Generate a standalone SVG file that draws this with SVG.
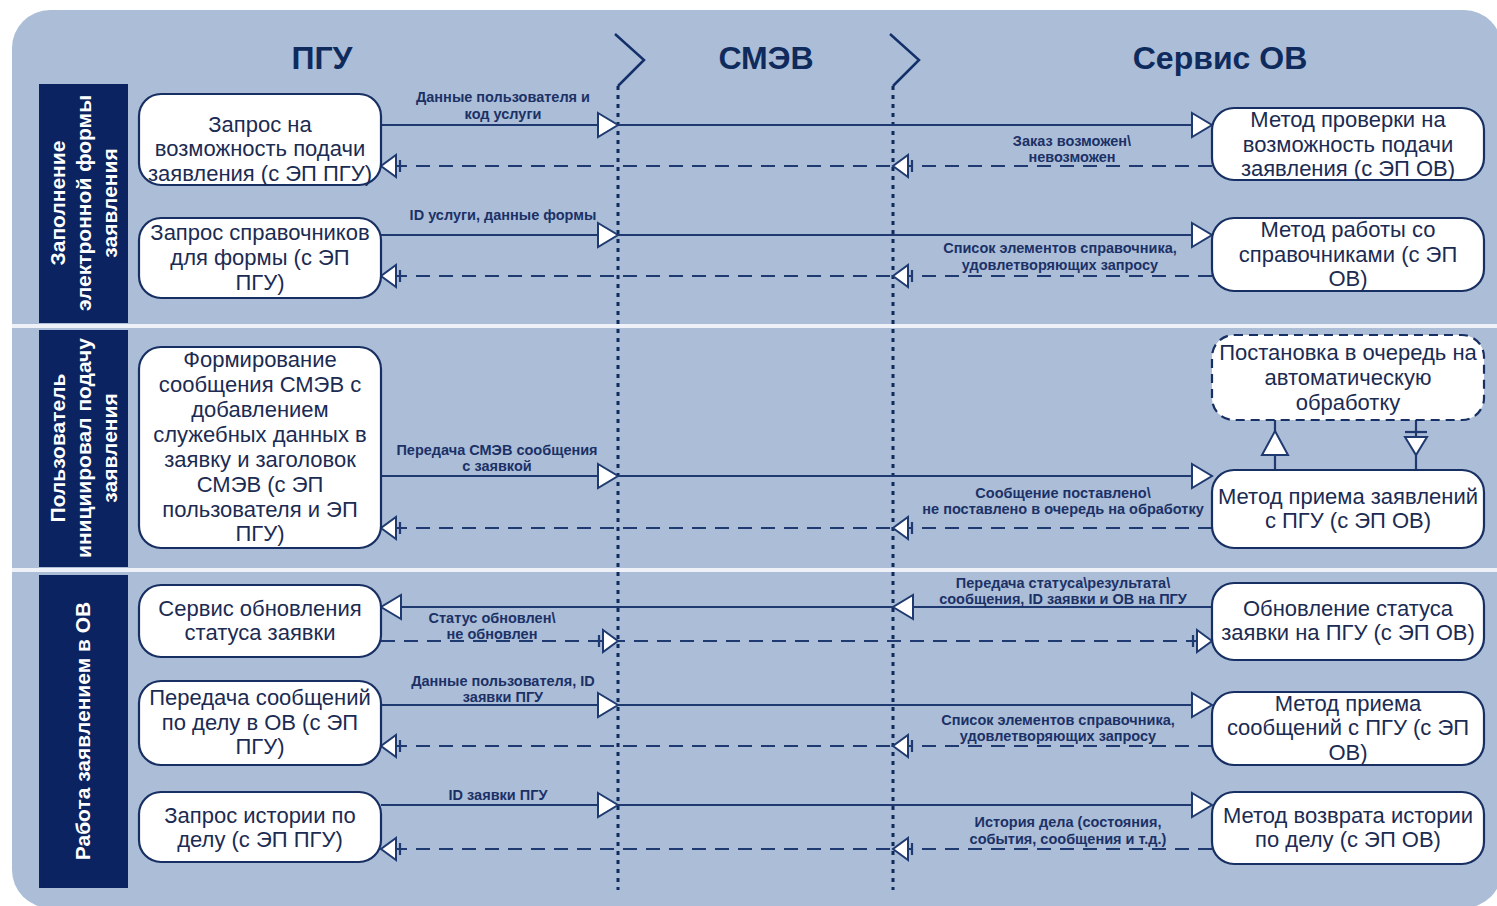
<svg xmlns="http://www.w3.org/2000/svg" width="1497" height="906" viewBox="0 0 1497 906">
<style>
.node{fill:#ffffff;stroke:#172f62;stroke-width:2.2}
.dnode{fill:#ffffff;stroke:#172f62;stroke-width:2.2;stroke-dasharray:9 6}
.nt{font-family:"Liberation Sans",Arial,sans-serif;font-size:22px;fill:#1b2b52;text-anchor:middle}
.hd{font-family:"Liberation Sans",Arial,sans-serif;font-size:32px;font-weight:bold;fill:#0f2a5c;text-anchor:middle}
.lane{fill:#0b2360}
.lt{font-family:"Liberation Sans",Arial,sans-serif;font-size:21px;font-weight:bold;fill:#ffffff;text-anchor:middle}
.lb{font-family:"Liberation Sans",Arial,sans-serif;font-size:14.5px;font-weight:bold;fill:#1b3166;text-anchor:middle}
.sol{fill:none;stroke:#1e3a70;stroke-width:2.2;marker-mid:url(#tri);marker-end:url(#tri)}
.das{fill:none;stroke:#1e3a70;stroke-width:2.2;stroke-dasharray:14 9;marker-mid:url(#bar);marker-end:url(#bar)}
.life{stroke:#0f2a5c;stroke-width:3;stroke-dasharray:4 5;fill:none}
.chev{stroke:#14306a;stroke-width:2.5;fill:none}
</style>
<defs>
<marker id="tri" markerUnits="userSpaceOnUse" markerWidth="24" markerHeight="28" viewBox="-2 -2 24 28" refX="20" refY="12" orient="auto">
<path d="M0,0 L20,12 L0,24 Z" fill="#ffffff" stroke="#1e3a70" stroke-width="2"/>
</marker>
<marker id="bar" markerUnits="userSpaceOnUse" markerWidth="26" markerHeight="26" viewBox="-2 -2 26 26" refX="20" refY="11" orient="auto">
<path d="M5,0 L20,11 L5,22 Z" fill="#ffffff" stroke="#1e3a70" stroke-width="2"/>
<path d="M1,5 L1,17" stroke="#1e3a70" stroke-width="2.2"/>
</marker>
</defs>
<rect x="0" y="0" width="1497" height="906" fill="#ffffff"/>
<rect x="12" y="10" width="1490" height="898" rx="38" fill="#abbdd7"/>
<rect x="12" y="324" width="1490" height="4" fill="#eef2f8"/>
<rect x="12" y="568" width="1490" height="4" fill="#eef2f8"/>

<g id="headers">
<text class="hd" x="322" y="69">ПГУ</text>
<text class="hd" x="766" y="69">СМЭВ</text>
<text class="hd" x="1220" y="69">Сервис ОВ</text>
</g>

<g id="lifelines">
<path class="chev" d="M615,34 L644,60 L618,86"/>
<path class="chev" d="M890,34 L919,60 L893,86"/>
<line class="life" x1="618" y1="86" x2="618" y2="890"/>
<line class="life" x1="893" y1="86" x2="893" y2="890"/>
</g>

<g id="lane1">
<rect class="lane" x="39" y="84" width="89" height="239"/>
<text class="lt" transform="translate(83,203) rotate(-90)"><tspan x="0" y="-18">Заполнение</tspan><tspan x="0" y="8">электронной формы</tspan><tspan x="0" y="34">заявления</tspan></text>
</g>
<g id="lane2">
<rect class="lane" x="39" y="330" width="89" height="237"/>
<text class="lt" transform="translate(83,448) rotate(-90)"><tspan x="0" y="-18">Пользователь</tspan><tspan x="0" y="8">инициировал подачу</tspan><tspan x="0" y="34">заявления</tspan></text>
</g>
<g id="lane3">
<rect class="lane" x="39" y="575" width="89" height="313"/>
<text class="lt" transform="translate(83,731) rotate(-90)"><tspan x="0" y="7">Работа заявлением в ОВ</tspan></text>
</g>

<g id="connectors">
<path class="sol" d="M381,125 L618,125 L1212,125"/>
<path class="das" d="M1212,166 L893,166 L381,166"/>
<path class="sol" d="M381,235 L618,235 L1212,235"/>
<path class="das" d="M1212,276 L893,276 L381,276"/>
<path class="sol" d="M381,476 L618,476 L1212,476"/>
<path class="das" d="M1212,528 L893,528 L381,528"/>
<path class="sol" d="M1212,607 L893,607 L381,607"/>
<path class="das" d="M381,641 L618,641 L1212,641"/>
<path class="sol" d="M381,705 L618,705 L1212,705"/>
<path class="das" d="M1212,746 L893,746 L381,746"/>
<path class="sol" d="M381,805 L618,805 L1212,805"/>
<path class="das" d="M1212,849 L893,849 L381,849"/>
<line x1="1275" y1="470" x2="1275" y2="420" stroke="#1e3a70" stroke-width="2.2"/>
<path d="M1275,431 L1288,455 L1262,455 Z" fill="#ffffff" stroke="#1e3a70" stroke-width="2"/>
<line x1="1416" y1="420" x2="1416" y2="470" stroke="#1e3a70" stroke-width="2.2"/>
<path d="M1405,437 L1427,437 L1416,455 Z" fill="#ffffff" stroke="#1e3a70" stroke-width="2"/>
<path d="M1405,432 L1427,432" stroke="#1e3a70" stroke-width="2.2"/>
<text class="lb"><tspan x="503" y="102">Данные пользователя и</tspan><tspan x="503" y="119">код услуги</tspan></text>
<text class="lb"><tspan x="1072" y="146">Заказ возможен\</tspan><tspan x="1072" y="162">невозможен</tspan></text>
<text class="lb"><tspan x="503" y="220">ID услуги, данные формы</tspan></text>
<text class="lb"><tspan x="1060" y="253">Список элементов справочника,</tspan><tspan x="1060" y="270">удовлетворяющих запросу</tspan></text>
<text class="lb"><tspan x="497" y="455">Передача СМЭВ сообщения</tspan><tspan x="497" y="471">с заявкой</tspan></text>
<text class="lb"><tspan x="1063" y="498">Сообщение поставлено\</tspan><tspan x="1063" y="514">не поставлено в очередь на обработку</tspan></text>
<text class="lb"><tspan x="1063" y="588">Передача статуса\результата\</tspan><tspan x="1063" y="604">сообщения, ID заявки и ОВ на ПГУ</tspan></text>
<text class="lb"><tspan x="492" y="623">Статус обновлен\</tspan><tspan x="492" y="639">не обновлен</tspan></text>
<text class="lb"><tspan x="503" y="686">Данные пользователя, ID</tspan><tspan x="503" y="702">заявки ПГУ</tspan></text>
<text class="lb"><tspan x="1058" y="725">Список элементов справочника,</tspan><tspan x="1058" y="741">удовлетворяющих запросу</tspan></text>
<text class="lb"><tspan x="498" y="800">ID заявки ПГУ</tspan></text>
<text class="lb"><tspan x="1068" y="827">История дела (состояния,</tspan><tspan x="1068" y="844">события, сообщения и т.д.)</tspan></text>
</g>

<g id="pgu1"><rect class="node" x="139" y="94" width="242" height="91" rx="22"/>
<text class="nt"><tspan x="260" y="132">Запрос на</tspan><tspan x="260" y="156">возможность подачи</tspan><tspan x="260" y="181">заявления (с ЭП ПГУ)</tspan></text></g>
<g id="pgu2"><rect class="node" x="139" y="218" width="242" height="80" rx="22"/>
<text class="nt"><tspan x="260" y="240">Запрос справочников</tspan><tspan x="260" y="265">для формы (с ЭП</tspan><tspan x="260" y="290">ПГУ)</tspan></text></g>
<g id="pgu3"><rect class="node" x="139" y="347" width="242" height="201" rx="22"/>
<text class="nt"><tspan x="260" y="367">Формирование</tspan><tspan x="260" y="392">сообщения СМЭВ с</tspan><tspan x="260" y="417">добавлением</tspan><tspan x="260" y="442">служебных данных в</tspan><tspan x="260" y="467">заявку и заголовок</tspan><tspan x="260" y="492">СМЭВ (с ЭП</tspan><tspan x="260" y="517">пользователя и ЭП</tspan><tspan x="260" y="541">ПГУ)</tspan></text></g>
<g id="pgu4"><rect class="node" x="139" y="585" width="242" height="72" rx="22"/>
<text class="nt"><tspan x="260" y="616">Сервис обновления</tspan><tspan x="260" y="640">статуса заявки</tspan></text></g>
<g id="pgu5"><rect class="node" x="139" y="681" width="242" height="84" rx="22"/>
<text class="nt"><tspan x="260" y="705">Передача сообщений</tspan><tspan x="260" y="730">по делу в ОВ (с ЭП</tspan><tspan x="260" y="754">ПГУ)</tspan></text></g>
<g id="pgu6"><rect class="node" x="139" y="792" width="242" height="70" rx="22"/>
<text class="nt"><tspan x="260" y="823">Запрос истории по</tspan><tspan x="260" y="847">делу (с ЭП ПГУ)</tspan></text></g>

<g id="ov1"><rect class="node" x="1212" y="108" width="272" height="72" rx="22"/>
<text class="nt"><tspan x="1348" y="127">Метод проверки на</tspan><tspan x="1348" y="152">возможность подачи</tspan><tspan x="1348" y="176">заявления (с ЭП ОВ)</tspan></text></g>
<g id="ov2"><rect class="node" x="1212" y="218" width="272" height="73" rx="22"/>
<text class="nt"><tspan x="1348" y="237">Метод работы со</tspan><tspan x="1348" y="262">справочниками (с ЭП</tspan><tspan x="1348" y="286">ОВ)</tspan></text></g>
<g id="queue"><rect class="dnode" x="1212" y="335" width="272" height="85" rx="22"/>
<text class="nt"><tspan x="1348" y="360">Постановка в очередь на</tspan><tspan x="1348" y="385">автоматическую</tspan><tspan x="1348" y="410">обработку</tspan></text></g>
<g id="ov3"><rect class="node" x="1212" y="470" width="272" height="78" rx="22"/>
<text class="nt"><tspan x="1348" y="504">Метод приема заявлений</tspan><tspan x="1348" y="528">с ПГУ (с ЭП ОВ)</tspan></text></g>
<g id="ov4"><rect class="node" x="1212" y="583" width="272" height="77" rx="22"/>
<text class="nt"><tspan x="1348" y="616">Обновление статуса</tspan><tspan x="1348" y="640">заявки на ПГУ (с ЭП ОВ)</tspan></text></g>
<g id="ov5"><rect class="node" x="1212" y="692" width="272" height="73" rx="22"/>
<text class="nt"><tspan x="1348" y="711">Метод приема</tspan><tspan x="1348" y="735">сообщений с ПГУ (с ЭП</tspan><tspan x="1348" y="760">ОВ)</tspan></text></g>
<g id="ov6"><rect class="node" x="1212" y="792" width="272" height="72" rx="22"/>
<text class="nt"><tspan x="1348" y="823">Метод возврата истории</tspan><tspan x="1348" y="847">по делу (с ЭП ОВ)</tspan></text></g>
</svg>
